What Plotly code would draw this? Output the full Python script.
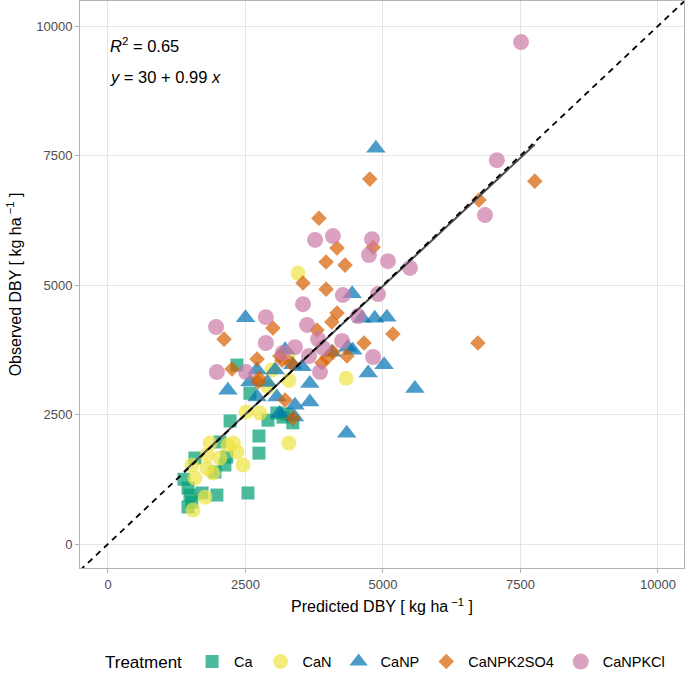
import plotly.graph_objects as go

# ---- data (predicted, observed) in kg/ha ----
ca_pred = [2345, 2580, 2220, 2745, 2745, 2910, 3070, 3250, 3360, 2545, 2035, 2160, 2125, 1945, 1580, 1380, 1455, 1490, 1525, 1710, 1980, 1455, 3180]
ca_obs = [3455, 2910, 2375, 2085, 1755, 2390, 2530, 2510, 2340, 985, 1970, 1680, 1525, 1390, 1660, 1250, 1080, 945, 810, 985, 945, 715, 2450]

can_pred = [3455, 3270, 4330, 3290, 2910, 2980, 2510, 2760, 3290, 1855, 2180, 2345, 2035, 1800, 1525, 1800, 1910, 2455, 1580, 1765, 1545, 2280]
can_obs = [5230, 3650, 3200, 3160, 3030, 3360, 2550, 2530, 1950, 1950, 1910, 1775, 1660, 1720, 1525, 1465, 1370, 1525, 1275, 905, 655, 1950]

canp_pred = [4870, 2500, 4440, 4620, 4850, 5070, 5020, 4730, 5580, 4340, 2180, 3670, 3670, 3400, 3070, 2580, 2710, 2710, 3040, 3360, 3530, 3220, 4070, 4360, 4450, 3120, 3390, 2900]
canp_obs = [7640, 4370, 4830, 4360, 4360, 4380, 3460, 3300, 3000, 2140, 2970, 3100, 2740, 2680, 2840, 3130, 2840, 3360, 3360, 3460, 3420, 3750, 3700, 3800, 3740, 2520, 2450, 3120]

k2so4_pred = [4760, 7760, 6745, 3835, 4165, 4820, 3965, 4310, 3545, 3965, 4165, 4070, 6725, 3000, 2110, 3800, 5180, 4655, 4345, 3980, 3890, 3125, 2710, 2255, 2745, 3220, 3365, 4090, 2730, 3165, 3330]
k2so4_obs = [7045, 7005, 6640, 6290, 5715, 5730, 5445, 5385, 5040, 4920, 4460, 4285, 3880, 4170, 3955, 4130, 4055, 3880, 3630, 3590, 3495, 3630, 3570, 3380, 3205, 2780, 2430, 3705, 3130, 3550, 3490]

kcl_pred = [7510, 7070, 6855, 3765, 4090, 4800, 4745, 5090, 5490, 3545, 4270, 4910, 3620, 2870, 1965, 2870, 3820, 4255, 4545, 3910, 3400, 3180, 3655, 4820, 1980, 2510, 3855]
kcl_obs = [9690, 7410, 6350, 5870, 5945, 5885, 5580, 5460, 5330, 4630, 4805, 4825, 4230, 4380, 4190, 3880, 3955, 3920, 4400, 3785, 3800, 3690, 3630, 3610, 3320, 3320, 3320]

treatments = ["Ca", "CaN", "CaNP", "CaNPK2SO4", "CaNPKCl"]
intercept = 30
slope = 0.99
r2 = 0.65
x_ticks = [0, 2500, 5000, 7500, 10000]
y_ticks = [0, 2500, 5000, 7500, 10000]
x_range = [-509, 10473]
y_range = [-463, 10483]

# ---- styles ----
colors = ["#009E73", "#F0E442", "#0072B2", "#D55E00", "#CC79A7"]
symbols = ["square", "circle", "triangle-up", "diamond", "circle"]
sizes = [13, 15, 17, 12, 16]

series = [(ca_pred, ca_obs), (can_pred, can_obs), (canp_pred, canp_obs),
          (k2so4_pred, k2so4_obs), (kcl_pred, kcl_obs)]

fig = go.Figure()
for name, (xs, ys), c, s, sz in zip(treatments, series, colors, symbols, sizes):
    fig.add_trace(go.Scatter(
        x=xs, y=ys, mode="markers", name=name,
        marker=dict(color=c, symbol=s, size=sz, opacity=0.7, line=dict(width=0)),
    ))

all_x = [v for xs, _ in series for v in xs]
xmin, xmax = min(all_x), max(all_x)
fig.add_trace(go.Scatter(
    x=[xmin, xmax], y=[intercept + slope * xmin, intercept + slope * xmax],
    mode="lines", line=dict(color="#4d4d4d", width=2), showlegend=False,
))
fig.add_trace(go.Scatter(
    x=x_range, y=x_range, mode="lines",
    line=dict(color="black", width=1.8, dash="6px,5px"), showlegend=False,
))

font = "Liberation Sans, Arial, sans-serif"
fig.add_annotation(x=0, y=1 - 44 / 567, xref="x", yref="paper",
                   showarrow=False, xanchor="left", yanchor="middle",
                   text="<i>R</i><sup>2</sup> = %.2f" % r2,
                   font=dict(size=16.5, color="black", family=font))
fig.add_annotation(x=0, y=1 - 76 / 567, xref="x", yref="paper",
                   showarrow=False, xanchor="left", yanchor="middle",
                   text="<i>y</i> = %d + %.2f <i>x</i>" % (intercept, slope),
                   font=dict(size=16.5, color="black", family=font))

fig.update_layout(
    width=685, height=674,
    margin=dict(l=80, r=1, t=1, b=106, autoexpand=False),
    plot_bgcolor="white", paper_bgcolor="white",
    font=dict(family=font, color="black"),
    legend=dict(orientation="h", x=(103 - 80) / 604, xanchor="left",
                y=-0.166, yanchor="middle",
                title=dict(text="Treatment", font=dict(size=17)),
                font=dict(size=14.5), itemwidth=34),
)

axis_common = dict(
    showgrid=True, gridcolor="#e6e6e6", gridwidth=1,
    zeroline=False, showline=True, linecolor="#b3b3b3", linewidth=1, mirror=True,
    ticks="outside", ticklen=4, tickcolor="#b3b3b3",
    tickfont=dict(size=13, color="#4d4d4d"), automargin=False,
)
fig.update_xaxes(range=x_range, tickvals=x_ticks, ticktext=[str(v) for v in x_ticks],
                 title=dict(text="Predicted DBY [ kg ha<sup> \u22121</sup> ]",
                            font=dict(size=16), standoff=10), **axis_common)
fig.update_yaxes(range=y_range, tickvals=y_ticks, ticktext=[str(v) for v in y_ticks],
                 title=dict(text="Observed DBY [ kg ha<sup> \u22121</sup> ]",
                            font=dict(size=16), standoff=10), **axis_common)

fig.write_html("out.html", config={"displayModeBar": False},
               post_script="document.body.style.margin='0';")
